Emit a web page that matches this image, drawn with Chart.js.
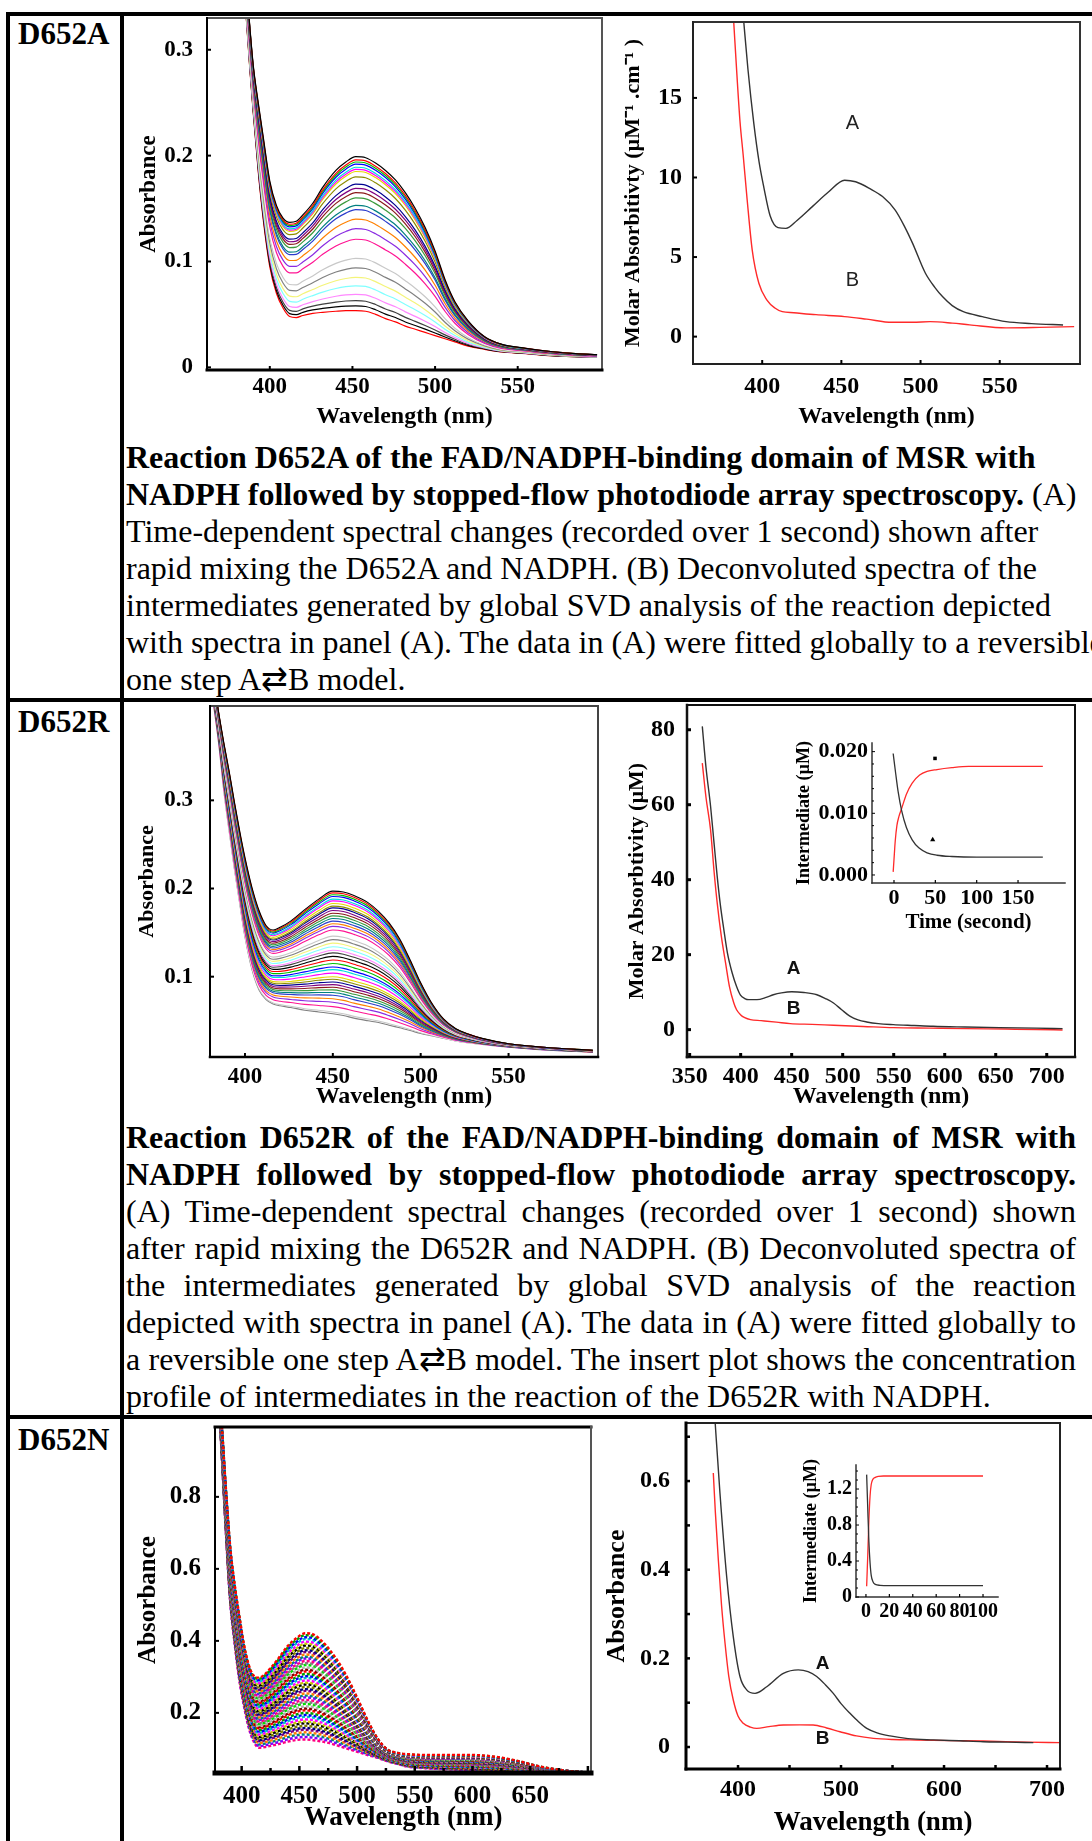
<!DOCTYPE html>
<html lang="en">
<head>
<meta charset="utf-8">
<title>MSR FAD/NADPH-binding domain variants – stopped-flow spectra</title>
<script src="https://cdn.jsdelivr.net/npm/chart.js@4.4.1/dist/chart.umd.min.js"></script>
<style>
html,body{margin:0;padding:0;background:#fff;}
body{width:1092px;height:1841px;position:relative;overflow:hidden;font-family:'Liberation Serif','Times New Roman',Times,serif;color:#000;}
.rule{position:absolute;background:#000;}
.tag{position:absolute;left:18px;font-weight:bold;font-size:31px;line-height:30px;white-space:nowrap;}
.cap{position:absolute;left:126px;font-size:32px;line-height:37px;}
.cap div{white-space:nowrap;}
.cap.just div{width:950px;text-align:justify;text-align-last:justify;}
.cap.just div.last{text-align-last:left;}
canvas{position:absolute;}
</style>
</head>
<body>
<!-- table rules -->
<div class="rule" style="left:6px;top:12px;width:1086px;height:4px"></div>
<div class="rule" style="left:6px;top:12px;width:4px;height:1829px"></div>
<div class="rule" style="left:120px;top:12px;width:4px;height:1829px"></div>
<div class="rule" style="left:6px;top:698px;width:1086px;height:4px"></div>
<div class="rule" style="left:6px;top:1415px;width:1086px;height:4px"></div>

<div class="tag" style="top:19px">D652A</div>
<div class="tag" style="top:707px">D652R</div>
<div class="tag" style="top:1425px">D652N</div>

<div class="cap" style="top:439px">
<div><b>Reaction D652A of the FAD/NADPH-binding domain of MSR with</b></div>
<div><b>NADPH followed by stopped-flow photodiode array spectroscopy.</b> (A)</div>
<div>Time-dependent spectral changes (recorded over 1 second) shown after</div>
<div>rapid mixing the D652A and NADPH. (B) Deconvoluted spectra of the</div>
<div>intermediates generated by global SVD analysis of the reaction depicted</div>
<div>with spectra in panel (A). The data in (A) were fitted globally to a reversible</div>
<div>one step A&#8644;B model.</div>
</div>

<div class="cap just" style="top:1119px">
<div><b>Reaction D652R of the FAD/NADPH-binding domain of MSR with</b></div>
<div><b>NADPH followed by stopped-flow photodiode array spectroscopy.</b></div>
<div>(A) Time-dependent spectral changes (recorded over 1 second) shown</div>
<div>after rapid mixing the D652R and NADPH. (B) Deconvoluted spectra of</div>
<div>the intermediates generated by global SVD analysis of the reaction</div>
<div>depicted with spectra in panel (A). The data in (A) were fitted globally to</div>
<div>a reversible one step A&#8644;B model. The insert plot shows the concentration</div>
<div class="last">profile of intermediates in the reaction of the D652R with NADPH.</div>
</div>

<canvas id="a1"></canvas>
<canvas id="a2"></canvas>
<canvas id="r1"></canvas>
<canvas id="r2"></canvas>
<canvas id="r2in"></canvas>
<canvas id="n1"></canvas>
<canvas id="n2"></canvas>
<canvas id="n2in"></canvas>

<script>
// ---------- D652A : time-resolved spectra (first and last trace, peak level of every trace) ----------
const A1_WL    = [384,388,390,393,396,400,404,408,412,416,420,426,432,440,446,452,458,464,470,476,482,488,494,500,506,512,520,530,540,555,570,585,598];
const A1_FIRST = [0.40,0.32,0.285,0.25,0.218,0.176,0.153,0.141,0.137,0.138,0.144,0.155,0.170,0.186,0.194,0.199,0.198,0.193,0.186,0.177,0.165,0.150,0.132,0.110,0.083,0.062,0.044,0.029,0.022,0.018,0.015,0.013,0.012];
const A1_LAST  = [0.37,0.28,0.24,0.185,0.14,0.095,0.070,0.056,0.048,0.047,0.049,0.051,0.052,0.053,0.0535,0.0535,0.053,0.050,0.046,0.043,0.039,0.036,0.033,0.030,0.027,0.024,0.020,0.017,0.0145,0.013,0.011,0.010,0.0095];
const A1_PEAKS = [0.199,0.196,0.194,0.192,0.189,0.187,0.185,0.180,0.173,0.169,0.165,0.160,0.153,0.149,0.140,0.131,0.121,0.112,0.103,0.094,0.085,0.077,0.069,0.063,0.058,0.0535];
const A1_X_TICKS = [400,450,500,550];
const A1_Y_TICKS = [0,0.1,0.2,0.3];
const A1_Y_LABELS = ['0','0.1','0.2','0.3'];

// ---------- D652A : deconvoluted spectra of species A and B ----------
const A2_WL_A = [388,391,394.7,398,401,405,410,415,422,432,442,452,459,468,476,484,490,495,503,509,514,520,527,539,554,570,590];
const A2_A    = [20.2,16.8,13.4,11.0,9.4,7.6,6.85,6.8,7.3,8.2,9.1,9.83,9.73,9.3,8.8,7.95,6.9,5.86,4.0,3.1,2.5,1.95,1.57,1.26,0.94,0.82,0.73];
const A2_WL_B = [382,384,386,388,390.5,393.7,397.9,403,408,412.7,420,434,452,466,482,495,506,520,531,554,575,597];
const A2_B    = [19.8,16.5,13.5,11.4,8.6,5.44,3.35,2.3,1.8,1.57,1.5,1.38,1.26,1.1,0.9,0.9,0.94,0.85,0.74,0.55,0.58,0.63];
const A2_X_TICKS = [400,450,500,550];
const A2_Y_TICKS = [0,5,10,15];

// ---------- D652R : time-resolved spectra ----------
const R1_WL    = [382,385,388,391,394,397,400,404,408,412,416,420,426,434,442,450,456,462,470,476,482,488,494,500,506,513,520,527,535,550,570,598];
const R1_FIRST = [0.44,0.40,0.365,0.333,0.298,0.265,0.235,0.201,0.175,0.158,0.153,0.156,0.163,0.176,0.188,0.197,0.196,0.192,0.184,0.174,0.161,0.143,0.119,0.093,0.071,0.052,0.041,0.035,0.030,0.024,0.020,0.0165];
const R1_LAST  = [0.41,0.365,0.31,0.265,0.222,0.183,0.145,0.108,0.085,0.074,0.069,0.067,0.065,0.062,0.060,0.058,0.056,0.053,0.050,0.048,0.045,0.042,0.039,0.0355,0.033,0.030,0.027,0.025,0.023,0.020,0.017,0.0146];
const R1_PEAKS = [0.197,0.195,0.193,0.191,0.188,0.186,0.183,0.180,0.178,0.175,0.172,0.169,0.166,0.163,0.160,0.157,0.153,0.149,0.146,0.142,0.138,0.134,0.130,0.127,0.123,0.119,0.115,0.111,0.108,0.104,0.100,0.097,0.094,0.091,0.088,0.085,0.082,0.079,0.075,0.071,0.066,0.063,0.060,0.058];
const R1_X_TICKS = [400,450,500,550];
const R1_Y_TICKS = [0.1,0.2,0.3];

// ---------- D652R : deconvoluted spectra ----------
const R2_WL_A = [362.4,366,370.5,374,377,380,383.5,387,391.7,396,399.8,404,408,416,425,432,440,450,462,474.7,483,491,499,507,515,523.5,535,549.5,570,588.6,620,653.7,690,715.5];
const R2_A    = [80.9,70,59.6,49.5,40.9,33.5,26.7,20.5,15.1,11.5,9.2,8.3,8.0,8.0,8.6,9.3,9.8,10.1,9.9,9.3,8.3,7.1,5.3,3.6,2.6,2.05,1.6,1.34,1.1,0.89,0.7,0.53,0.4,0.27];
const R2_WL_B = [362.4,366,370.5,374,377,381,385.2,389,393.3,396,399.8,404,409.6,420,435,448.6,470,491,520,549.5,585,621,660,690,715.5];
const R2_B    = [71.1,62,53.3,42,33.8,25,17.8,11.5,7.1,5.3,4.0,3.2,2.67,2.4,2.0,1.6,1.4,1.16,0.85,0.53,0.4,0.27,0.15,0.05,-0.1];
const R2_X_TICKS = [350,400,450,500,550,600,650,700];
const R2_Y_TICKS = [0,20,40,60,80];

// D652R concentration profile of the intermediates (insert)
const R3_T_A = [-1,2,5,9.3,15,22,30,40,52,70,100,140,180];
const R3_C_A = [0.0197,0.0165,0.0135,0.0104,0.0077,0.0057,0.0044,0.0036,0.0032,0.0030,0.0029,0.0029,0.0029];
const R3_T_B = [-1,0,1.5,3.5,6,9.3,15,22,31,40,52,70,90,180];
const R3_C_B = [0.0005,0.0025,0.0055,0.0080,0.0095,0.0108,0.0131,0.0149,0.0162,0.0168,0.0171,0.0174,0.0176,0.0176];
const R3_SQUARE = [{x:49.6, y:0.0189}];
const R3_TRIANGLE = [{x:46.8, y:0.0057}];
const R3_X_TICKS = [0,50,100,150];
const R3_Y_TICKS = [0,0.01,0.02];
const R3_Y_LABELS = ['0.000','0.010','0.020'];
const R3_Y_MINOR = [0.002,0.004,0.006,0.008,0.012,0.014,0.016,0.018];

// ---------- D652N : time-resolved spectra ----------
const N1_WL    = [380,383,386,390,394,398,402,406,410,415,420,426,432,440,448,455,462,470,478,486,494,502,510,518,526,535,545,560,580,600,620,640,660,680,697];
const N1_FIRST = [1.12,0.99,0.84,0.665,0.555,0.47,0.39,0.335,0.305,0.298,0.307,0.328,0.352,0.386,0.409,0.421,0.418,0.398,0.368,0.33,0.283,0.229,0.174,0.128,0.099,0.089,0.085,0.083,0.083,0.083,0.078,0.066,0.05,0.04,0.035];
const N1_LAST  = [1.08,0.9,0.72,0.51,0.39,0.29,0.219,0.16,0.123,0.103,0.105,0.109,0.113,0.12,0.125,0.126,0.124,0.12,0.114,0.106,0.098,0.09,0.082,0.075,0.066,0.058,0.05,0.046,0.043,0.041,0.039,0.037,0.036,0.034,0.033];
const N1_PEAKS = [0.421,0.416,0.410,0.405,0.398,0.392,0.387,0.380,0.374,0.369,0.362,0.356,0.351,0.344,0.338,0.333,0.326,0.320,0.315,0.308,0.302,0.297,0.290,0.284,0.279,0.272,0.266,0.261,0.254,0.248,0.243,0.236,0.230,0.225,0.218,0.212,0.207,0.200,0.194,0.189,0.182,0.176,0.171,0.164,0.158,0.153,0.146,0.140,0.133,0.126];
const N1_X_TICKS = [400,450,500,550,600,650,700];
const N1_X_LABELS = ['400','450','500','550','600','650',''];
const N1_X_MINOR = [425,475,525,575,625,675];
const N1_Y_TICKS = [0.2,0.4,0.6,0.8];

// ---------- D652N : deconvoluted spectra ----------
const N2_WL_A = [377,382.5,389,395.4,401.9,408.4,416.5,427.9,444,458.5,468,476.4,485,492.5,500,508.7,517,525,535,547.6,565,589.6,615,638,662,686.7];
const N2_A    = [0.76,0.572,0.384,0.249,0.159,0.129,0.121,0.136,0.166,0.174,0.17,0.159,0.14,0.121,0.098,0.076,0.057,0.042,0.032,0.025,0.019,0.016,0.014,0.012,0.011,0.0098];
const N2_WL_B = [376,378,380.9,384,387.4,391,395.4,400,405.1,412,418.2,430,444,460,473,486,499,515,531.4,550,573.5,605,638,680,712.6];
const N2_B    = [0.618,0.53,0.422,0.32,0.234,0.16,0.106,0.07,0.0535,0.045,0.042,0.046,0.0497,0.05,0.0497,0.043,0.0345,0.025,0.0196,0.017,0.0158,0.0145,0.0135,0.011,0.0098];
const N2_X_TICKS = [400,450,500,550,600,650,700];
const N2_X_LABELS = ['400','','500','','600','','700'];
const N2_Y_TICKS = [0,0.2,0.4,0.6];
const N2_Y_LABELS = ['0','0.2','0.4','0.6'];
const N2_Y_MINOR = [0.1,0.3,0.5,0.7];

// D652N concentration profile of the intermediates (insert)
const N3_T_A = [0.6,1.5,2.5,3.5,4.5,6,8,12,20,40,70,100];
const N3_C_A = [1.36,1.0,0.62,0.38,0.24,0.17,0.14,0.13,0.127,0.127,0.127,0.127];
const N3_T_B = [0.6,1.5,2.5,3.5,4.5,6,8,10.5,15,30,60,100];
const N3_C_B = [0.12,0.45,0.85,1.12,1.25,1.31,1.33,1.34,1.345,1.345,1.345,1.345];
const N3_X_TICKS = [0,20,40,60,80,100];
const N3_Y_TICKS = [0,0.4,0.8,1.2];
const N3_Y_MINOR = [0.1,0.2,0.3,0.5,0.6,0.7,0.9,1.0,1.1,1.3,1.4];

// colour increment list for the stacked traces
const TRACE_COLORS = ['#000000','#ff0000','#00c000','#0000ff','#00dede','#ff00ff','#e6d800','#8c8c00','#000090','#800080','#8b1a1a','#3c9a3c','#008080','#2c3ccc','#ff8000','#8a2be2','#ff1493','#ffffff','#c8c8c8','#808080','#f4f47a','#80ffff','#ff88ff','#404040'];
const MIX_COLORS = ['#ff0000','#00a000','#0000ff','#00c8c8','#ff00ff','#c8c800','#000000','#808000','#000080','#800080','#ff8000','#008080','#8000ff','#ff0080','#808080','#00e000','#b0b0b0','#800000'];

const SERIF = "'Liberation Serif', 'Times New Roman', Times, serif";
const SANS = "'Liberation Sans', Arial, Helvetica, sans-serif";
const NARROW = "'Liberation Sans Narrow', 'Liberation Sans', Arial, sans-serif";

function line(xs, ys, color, width, extra) {
  return Object.assign({
    data: xs.map((x, i) => ({x, y: ys[i]})),
    showLine: true, pointRadius: 0, borderColor: color, borderWidth: width,
    fill: false, cubicInterpolationMode: 'monotone'
  }, extra || {});
}

// each recorded trace is the A/B mixture that reproduces its peak level
function traces(wl, first, last, peaks, readAt, colors, style) {
  const k = wl.indexOf(readAt);
  const span = first[k] - last[k];
  return peaks.map((p, i) => {
    const f = (p - last[k]) / span;
    return line(wl, wl.map((_, j) => last[j] + f * (first[j] - last[j])), colors[i % colors.length], 1, style(i));
  });
}

function framePlugin(spec) {
  return {
    id: 'frame',
    afterDatasetsDraw(chart) {
      const {ctx, chartArea: a, scales} = chart;
      ctx.save();
      const edge = (s, x1, y1, x2, y2) => {
        if (!s) return;
        ctx.strokeStyle = s[0]; ctx.lineWidth = s[1]; ctx.lineCap = 'square';
        ctx.beginPath(); ctx.moveTo(x1, y1); ctx.lineTo(x2, y2); ctx.stroke();
      };
      edge(spec.top, a.left, a.top, a.right, a.top);
      edge(spec.right, a.right, a.top, a.right, a.bottom);
      edge(spec.bottom, a.left, a.bottom, a.right, a.bottom);
      edge(spec.left, a.left, a.top, a.left, a.bottom);
      const marks = (scale, m, horiz) => {
        if (!m) return;
        ctx.strokeStyle = m.color || '#000'; ctx.lineCap = 'butt'; ctx.lineWidth = m.width;
        const one = (v, len) => {
          const p = scale.getPixelForValue(v);
          ctx.beginPath();
          if (horiz) { ctx.moveTo(p, a.bottom); ctx.lineTo(p, a.bottom - len); }
          else { ctx.moveTo(a.left, p); ctx.lineTo(a.left + len, p); }
          ctx.stroke();
        };
        scale.ticks.forEach(t => one(t.value, m.len));
        (m.minor || []).forEach(v => one(v, m.minorLen || m.len / 2));
      };
      marks(scales.x, spec.xTicks, true);
      marks(scales.y, spec.yTicks, false);
      ctx.restore();
    }
  };
}

function tagPlugin(items) {
  return {
    id: 'tags',
    afterDatasetsDraw(chart) {
      const {ctx, scales: {x, y}} = chart;
      ctx.save();
      ctx.textAlign = 'center'; ctx.textBaseline = 'middle';
      items.forEach(t => {
        ctx.font = t.font; ctx.fillStyle = t.color || '#000';
        ctx.fillText(t.text, x.getPixelForValue(t.x), y.getPixelForValue(t.y));
      });
      ctx.restore();
    }
  };
}

// box = plot area in page pixels; axes, labels and titles are laid out around it
function makePanel(id, box, o) {
  const ts = o.tickSize;
  const xlh = (o.x.titleSize || 0) * 1.2, ylh = (o.y.titleSize || 0) * 1.2;
  const yW = Math.round(box.l - (o.y.title ? o.y.titleX - ylh / 2 - 4 : o.y.labelRight - 60));
  const xH = Math.round((o.x.title ? o.x.titleY + xlh / 2 + 4 : o.x.labelY + ts * 0.6 + 8) - box.b);
  const padTop = 14, padRight = 16;
  const W = yW + (box.r - box.l) + padRight;
  const H = padTop + (box.b - box.t) + xH;
  const cv = document.getElementById(id);
  cv.width = W; cv.height = H;
  Object.assign(cv.style, {left: (box.l - yW) + 'px', top: (box.t - padTop) + 'px', width: W + 'px', height: H + 'px'});
  const tickFont = {family: SERIF, size: ts, weight: 'bold'};
  const xLabels = o.x.labels || o.x.ticks.map(String);
  const yLabels = o.y.labels || o.y.ticks.map(String);
  return new Chart(cv, {
    type: 'scatter',
    data: {datasets: o.datasets},
    options: {
      responsive: false, animation: false, events: [],
      layout: {padding: {top: padTop, right: padRight, left: 0, bottom: 0}},
      plugins: {legend: {display: false}, tooltip: {enabled: false}},
      scales: {
        x: {
          type: 'linear', position: 'bottom', min: o.x.min, max: o.x.max,
          grid: {display: false, drawTicks: false}, border: {display: false},
          ticks: {autoSkip: false, maxRotation: 0, minRotation: 0, color: '#000', font: tickFont,
                  padding: o.x.labelY - box.b - ts * 0.6, callback: (v, i) => xLabels[i]},
          afterBuildTicks: s => { s.ticks = o.x.ticks.map(v => ({value: v})); },
          afterFit: s => { s.height = xH; s.paddingLeft = 0; s.paddingRight = 0; },
          title: {display: !!o.x.title, text: o.x.title || '', color: '#000',
                  font: {family: SERIF, size: o.x.titleSize || 12, weight: 'bold'}, padding: {top: 0, bottom: 4}}
        },
        y: {
          type: 'linear', position: 'left', min: o.y.min, max: o.y.max,
          grid: {display: false, drawTicks: false}, border: {display: false},
          ticks: {autoSkip: false, color: '#000', font: tickFont,
                  padding: box.l - o.y.labelRight, callback: (v, i) => yLabels[i]},
          afterBuildTicks: s => { s.ticks = o.y.ticks.map(v => ({value: v})); },
          afterFit: s => { s.width = yW; s.paddingTop = 0; s.paddingBottom = 0; },
          title: {display: !!o.y.title, text: o.y.title || '', color: '#000',
                  font: {family: SERIF, size: o.y.titleSize || 12, weight: 'bold'}, padding: {top: 4, bottom: 0}}
        }
      }
    },
    plugins: [framePlugin(o.frame), tagPlugin(o.tags || [])]
  });
}

const WAVE = 'Wavelength (nm)';

// D652A (A)
makePanel('a1', {l: 207, t: 18, r: 602, b: 370}, {
  tickSize: 23,
  x: {min: 362, max: 601, ticks: A1_X_TICKS, labelY: 387, title: WAVE, titleY: 417, titleSize: 24},
  y: {min: -0.0025, max: 0.33, ticks: A1_Y_TICKS, labels: A1_Y_LABELS, labelRight: 193, title: 'Absorbance', titleX: 149, titleSize: 23},
  datasets: traces(A1_WL, A1_FIRST, A1_LAST, A1_PEAKS, 452, TRACE_COLORS, () => ({borderWidth: 1.2})),
  frame: {top: ['#555', 2], right: ['#555', 2], bottom: ['#000', 3], left: ['#000', 2],
          xTicks: {len: 4, width: 2}, yTicks: {len: 4, width: 2}}
});

// D652A (B)
makePanel('a2', {l: 693, t: 22, r: 1080, b: 364}, {
  tickSize: 24,
  x: {min: 356.3, max: 600.7, ticks: A2_X_TICKS, labelY: 387, title: WAVE, titleY: 417, titleSize: 24},
  y: {min: -1.72, max: 19.77, ticks: A2_Y_TICKS, labelRight: 682, title: 'Molar Absorbitivty (\u00B5M\u207B\u00B9 .cm\u207B\u00B9 )', titleX: 633, titleSize: 22},
  datasets: [line(A2_WL_A, A2_A, '#333333', 1.4), line(A2_WL_B, A2_B, '#ff2a2a', 1.4)],
  tags: [{text: 'A', x: 457, y: 13.4, font: '20px ' + NARROW, color: '#222'},
         {text: 'B', x: 457, y: 3.5, font: '20px ' + NARROW, color: '#222'}],
  frame: {top: ['#333', 2], right: ['#333', 2], bottom: ['#222', 2], left: ['#222', 2],
          xTicks: {len: 4, width: 2}, yTicks: {len: 4, width: 2}}
});

// D652R (A)
makePanel('r1', {l: 210, t: 706, r: 598, b: 1057}, {
  tickSize: 23,
  x: {min: 380.1, max: 600.9, ticks: R1_X_TICKS, labelY: 1077, title: WAVE, titleY: 1097, titleSize: 24},
  y: {min: 0.0089, max: 0.407, ticks: R1_Y_TICKS, labelRight: 193, title: 'Absorbance', titleX: 147, titleSize: 22},
  datasets: traces(R1_WL, R1_FIRST, R1_LAST, R1_PEAKS, 450, TRACE_COLORS, () => ({borderWidth: 1.1})),
  frame: {top: ['#444', 2], right: ['#444', 2], bottom: ['#000', 2.5], left: ['#000', 2],
          xTicks: {len: 4, width: 2}, yTicks: {len: 4, width: 2}}
});

// D652R (B)
makePanel('r2', {l: 687, t: 705, r: 1075, b: 1057}, {
  tickSize: 24,
  x: {min: 347.4, max: 727.7, ticks: R2_X_TICKS, labelY: 1077, title: WAVE, titleY: 1097, titleSize: 24},
  y: {min: -7.3, max: 86.6, ticks: R2_Y_TICKS, labelRight: 675, title: 'Molar Absorbtivity (\u00B5M)', titleX: 637, titleSize: 22},
  datasets: [line(R2_WL_A, R2_A, '#333333', 1.4), line(R2_WL_B, R2_B, '#ff2a2a', 1.4)],
  tags: [{text: 'A', x: 451.9, y: 16.3, font: 'bold 19px ' + SANS, color: '#111'},
         {text: 'B', x: 451.9, y: 5.6, font: 'bold 19px ' + SANS, color: '#111'}],
  frame: {top: ['#111', 2], right: ['#111', 2], bottom: ['#111', 2.5], left: ['#111', 2.5],
          xTicks: {len: 4, width: 3}, yTicks: {len: 4, width: 3}}
});

// D652R insert: intermediates vs time
makePanel('r2in', {l: 872, t: 743, r: 1065, b: 883}, {
  tickSize: 22,
  x: {min: -26.6, max: 206.8, ticks: R3_X_TICKS, labelY: 898, title: 'Time (second)', titleY: 922, titleSize: 21},
  y: {min: -0.0013, max: 0.0214, ticks: R3_Y_TICKS, labels: R3_Y_LABELS, labelRight: 868, title: 'Intermediate (\u00B5M)', titleX: 805, titleSize: 18},
  datasets: [line(R3_T_A, R3_C_A, '#333333', 1.3), line(R3_T_B, R3_C_B, '#ff2a2a', 1.3),
             {data: R3_SQUARE, pointStyle: 'rect', pointRadius: 2.5, backgroundColor: '#000', borderColor: '#000', borderWidth: 0},
             {data: R3_TRIANGLE, pointStyle: 'triangle', pointRadius: 3, backgroundColor: '#000', borderColor: '#000', borderWidth: 0}],
  frame: {bottom: ['#333', 1.5], left: ['#333', 1.5],
          xTicks: {len: 3, width: 1.2}, yTicks: {len: 3, width: 1, minor: R3_Y_MINOR, minorLen: 2}}
});

// D652N (A)
makePanel('n1', {l: 215, t: 1427, r: 591, b: 1773}, {
  tickSize: 25,
  x: {min: 376.9, max: 702.7, ticks: N1_X_TICKS, labels: N1_X_LABELS, labelY: 1797, title: WAVE, titleY: 1818, titleSize: 27},
  y: {min: 0.033, max: 0.994, ticks: N1_Y_TICKS, labelRight: 201, title: 'Absorbance', titleX: 149, titleSize: 25},
  datasets: traces(N1_WL, N1_FIRST, N1_LAST, N1_PEAKS, 455, MIX_COLORS,
                   i => ({borderWidth: 2.4, borderDash: [3, 2], borderDashOffset: i % 5})),
  frame: {top: ['#000', 3], right: ['#555', 2], bottom: ['#000', 5], left: ['#000', 2],
          xTicks: {len: 7, width: 2.5, minor: N1_X_MINOR, minorLen: 5}, yTicks: {len: 4, width: 2}}
});

// D652N (B)
makePanel('n2', {l: 686, t: 1423, r: 1060, b: 1769}, {
  tickSize: 24,
  x: {min: 349.5, max: 712.6, ticks: N2_X_TICKS, labels: N2_X_LABELS, labelY: 1790, title: WAVE, titleY: 1823, titleSize: 27},
  y: {min: -0.0496, max: 0.731, ticks: N2_Y_TICKS, labels: N2_Y_LABELS, labelRight: 670, title: 'Absorbance', titleX: 618, titleSize: 26},
  datasets: [line(N2_WL_A, N2_A, '#333333', 1.4), line(N2_WL_B, N2_B, '#ff2a2a', 1.4)],
  tags: [{text: 'A', x: 482.2, y: 0.187, font: 'bold 19px ' + SANS, color: '#111'},
         {text: 'B', x: 482.2, y: 0.0196, font: 'bold 19px ' + SANS, color: '#111'}],
  frame: {top: ['#222', 2], right: ['#222', 2], bottom: ['#000', 3], left: ['#000', 3],
          xTicks: {len: 4, width: 2.5}, yTicks: {len: 4, width: 2.5, minor: N2_Y_MINOR, minorLen: 4}}
});

// D652N insert: intermediates vs time
makePanel('n2in', {l: 856, t: 1465, r: 998, b: 1597}, {
  tickSize: 20,
  x: {min: -8.5, max: 112.8, ticks: N3_X_TICKS, labelY: 1612},
  y: {min: 0, max: 1.467, ticks: N3_Y_TICKS, labelRight: 852, title: 'Intermediate (\u00B5M)', titleX: 812, titleSize: 18},
  datasets: [line(N3_T_A, N3_C_A, '#333333', 1.3), line(N3_T_B, N3_C_B, '#ff2a2a', 1.3)],
  frame: {bottom: ['#333', 1.5], left: ['#333', 1.5],
          xTicks: {len: 3, width: 1.2}, yTicks: {len: 3, width: 1, minor: N3_Y_MINOR, minorLen: 2}}
});
</script>
</body>
</html>
